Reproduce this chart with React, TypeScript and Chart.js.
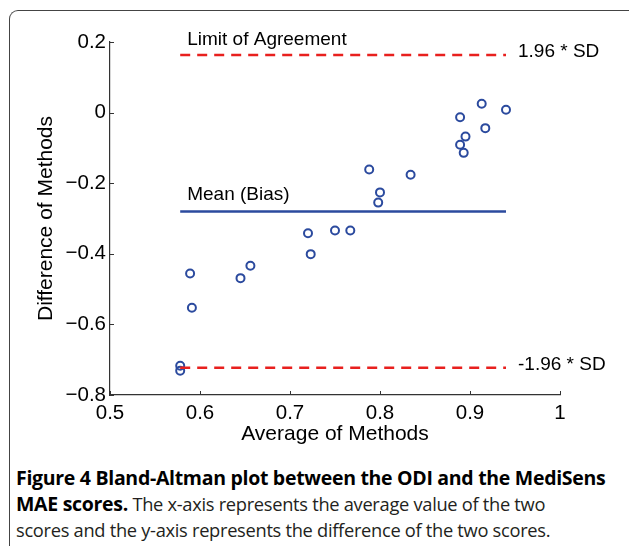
import React, { useEffect, useRef } from "react";
import { Chart, registerables } from "chart.js";

Chart.register(...registerables);

// ---- Data ----
const averages = [
  0.578, 0.578, 0.589, 0.591, 0.645, 0.656, 0.720, 0.723, 0.750, 0.767,
  0.788, 0.798, 0.800, 0.834, 0.889, 0.889, 0.893, 0.895, 0.913, 0.917, 0.940,
];
const differences = [
  -0.717, -0.731, -0.456, -0.553, -0.469, -0.434, -0.342, -0.401, -0.334, -0.334,
  -0.161, -0.255, -0.226, -0.176, -0.013, -0.091, -0.114, -0.068, 0.025, -0.044, 0.008,
];
const meanBias = -0.28;
const upperLimit = 0.163;
const lowerLimit = -0.723;

const xTicks = [0.5, 0.6, 0.7, 0.8, 0.9, 1];
const yTicks = [-0.8, -0.6, -0.4, -0.2, 0, 0.2];

const labelLimit = "Limit of Agreement";
const labelMean = "Mean (Bias)";
const labelUpper = "1.96 * SD";
const labelLower = "-1.96 * SD";
const xTitle = "Average of Methods";
const yTitle = "Difference of Methods";

const BLUE = "#2b4a9e";
const RED = "#e8201e";
const AXIS = "#333333";
const FONT = "'Liberation Sans', Arial, Helvetica, sans-serif";

function fmt(v: number): string {
  const r = Math.round(v * 10) / 10;
  if (r === 0) return "0";
  if (r < 0) return "\u2212" + String(Math.abs(r));
  return String(r);
}

const W = 629;
const CH = 460;

export default function App() {
  const ref = useRef<HTMLCanvasElement | null>(null);

  useEffect(() => {
    if (!ref.current) return;
    const xMin = Math.min(...averages);
    const xMax = Math.max(...averages);

    const decorations = {
      id: "decorations",
      afterDraw(chart: any) {
        const { ctx, chartArea, scales } = chart;
        const xs = scales.x;
        const ys = scales.y;
        ctx.save();
        // inward ticks
        ctx.strokeStyle = AXIS;
        ctx.lineWidth = 1;
        xTicks.forEach((t) => {
          const px = Math.round(xs.getPixelForValue(t)) + 0.5;
          ctx.beginPath();
          ctx.moveTo(px, chartArea.bottom);
          ctx.lineTo(px, chartArea.bottom - 4);
          ctx.stroke();
        });
        yTicks.forEach((t) => {
          const py = Math.round(ys.getPixelForValue(t)) + 0.5;
          ctx.beginPath();
          ctx.moveTo(chartArea.left, py);
          ctx.lineTo(chartArea.left + 4, py);
          ctx.stroke();
        });
        // annotation text
        ctx.fillStyle = "#000";
        ctx.font = `19px ${FONT}`;
        ctx.textAlign = "left";
        ctx.textBaseline = "alphabetic";
        const lx = xs.getPixelForValue(xMin) + 7;
        ctx.fillText(labelLimit, lx, ys.getPixelForValue(upperLimit) - 10);
        ctx.fillText(labelMean, lx, ys.getPixelForValue(meanBias) - 11);
        ctx.textBaseline = "middle";
        const rx = xs.getPixelForValue(xMax) + 12;
        ctx.fillText(labelUpper, rx, ys.getPixelForValue(upperLimit) - 3);
        ctx.fillText(labelLower, rx, ys.getPixelForValue(lowerLimit) - 3);
        ctx.restore();
      },
    };

    const chart = new Chart(ref.current, {
      type: "scatter",
      data: {
        datasets: [
          {
            type: "line",
            data: [
              { x: xMin, y: upperLimit },
              { x: xMax, y: upperLimit },
            ],
            borderColor: RED,
            borderWidth: 2.5,
            borderDash: [10, 7],
            pointRadius: 0,
            fill: false,
          },
          {
            type: "line",
            data: [
              { x: xMin, y: lowerLimit },
              { x: xMax, y: lowerLimit },
            ],
            borderColor: RED,
            borderWidth: 2.5,
            borderDash: [10, 7],
            pointRadius: 0,
            fill: false,
          },
          {
            type: "line",
            data: [
              { x: xMin, y: meanBias },
              { x: xMax, y: meanBias },
            ],
            borderColor: BLUE,
            borderWidth: 2.5,
            pointRadius: 0,
            fill: false,
          },
          {
            type: "scatter",
            data: averages.map((a, i) => ({ x: a, y: differences[i] })),
            borderColor: BLUE,
            backgroundColor: "rgba(0,0,0,0)",
            borderWidth: 2,
            pointRadius: 4,
          },
        ],
      },
      options: {
        animation: false,
        responsive: false,
        maintainAspectRatio: false,
        layout: { padding: { left: 0, right: 69, top: 42, bottom: 0 } },
        plugins: {
          legend: { display: false },
          tooltip: { enabled: false },
        },
        scales: {
          x: {
            type: "linear",
            min: 0.5,
            max: 1,
            afterBuildTicks: (s: any) => {
              s.ticks = xTicks.map((v) => ({ value: v }));
            },
            afterFit: (s: any) => {
              s.height = CH - 395;
            },
            grid: { display: false, drawTicks: false },
            border: { display: true, color: AXIS, width: 1.2 },
            ticks: {
              color: "#000",
              font: { family: FONT, size: 20.5 },
              padding: 6,
              callback: (v: any) => fmt(Number(v)),
            },
            title: {
              display: true,
              text: xTitle,
              color: "#000",
              font: { family: FONT, size: 21 },
              padding: { top: 0, bottom: 13 },
            },
          },
          y: {
            type: "linear",
            min: -0.8,
            max: 0.2,
            afterBuildTicks: (s: any) => {
              s.ticks = yTicks.map((v) => ({ value: v }));
            },
            afterFit: (s: any) => {
              s.width = 110;
            },
            grid: { display: false, drawTicks: false },
            border: { display: true, color: AXIS, width: 1.2 },
            ticks: {
              color: "#000",
              font: { family: FONT, size: 20.5 },
              padding: 4,
              callback: (v: any) => fmt(Number(v)),
            },
            title: {
              display: true,
              text: yTitle,
              color: "#000",
              font: { family: FONT, size: 21 },
              padding: { top: 34, bottom: 0 },
            },
          },
        },
      },
      plugins: [decorations],
    } as any);

    return () => chart.destroy();
  }, []);

  const capFont = "'Open Sans', 'Noto Sans', sans-serif";
  const lineStyle: React.CSSProperties = {
    position: "absolute",
    left: 16,
    whiteSpace: "nowrap",
    fontFamily: capFont,
    fontSize: 18.3,
    lineHeight: "20px",
    color: "#231f20",
    letterSpacing: "-0.3px",
  };
  const boldStyle: React.CSSProperties = { color: "#000", fontSize: 19.5, fontWeight: 700 };

  return (
    <div
      style={{
        position: "fixed",
        left: 0,
        top: 0,
        width: W,
        height: 546,
        overflow: "hidden",
        background: "#fff",
      }}
    >
      <div
        style={{
          position: "absolute",
          left: 9,
          top: 10,
          width: 700,
          height: 700,
          borderTop: "1.3px solid #444",
          borderLeft: "1.3px solid #444",
          borderTopLeftRadius: 9,
        }}
      />
      <canvas
        ref={ref}
        width={W}
        height={CH}
        style={{ position: "absolute", left: 0, top: 0, width: W, height: CH }}
      />
      <div style={{ ...lineStyle, top: 468 }}>
        <span style={boldStyle}>Figure 4 Bland-Altman plot between the ODI and the MediSens</span>
      </div>
      <div style={{ ...lineStyle, top: 494 }}>
        <span style={boldStyle}>MAE scores.</span> The x-axis represents the average value of the two
      </div>
      <div style={{ ...lineStyle, top: 520 }}>
        scores and the y-axis represents the difference of the two scores.
      </div>
    </div>
  );
}
